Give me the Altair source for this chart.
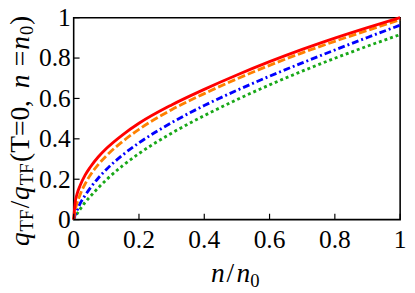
import altair as alt
import pandas as pd

# density n/n0
n_vals = [0, 0.005, 0.01, 0.02, 0.035, 0.05, 0.075, 0.1, 0.15, 0.2, 0.3, 0.4, 0.5, 0.6, 0.7, 0.8, 0.9, 1.0]
# q_TF / q_TF(T=0, n=n0) for four curves
red = [0, 0.09, 0.125, 0.17, 0.22, 0.258, 0.31, 0.352, 0.42, 0.477, 0.568, 0.645, 0.716, 0.782, 0.843, 0.899, 0.951, 1.0]
orange = [0, 0.05, 0.08, 0.125, 0.177, 0.218, 0.272, 0.316, 0.387, 0.447, 0.544, 0.624, 0.697, 0.764, 0.826, 0.883, 0.937, 0.99]
blue = [0, 0.025, 0.045, 0.08, 0.12, 0.155, 0.205, 0.248, 0.32, 0.38, 0.48, 0.565, 0.64, 0.71, 0.776, 0.84, 0.902, 0.963]
green = [0, 0.015, 0.028, 0.052, 0.085, 0.113, 0.157, 0.197, 0.267, 0.327, 0.428, 0.515, 0.594, 0.667, 0.735, 0.799, 0.859, 0.916]
tick_vals = [0, 0.2, 0.4, 0.6, 0.8, 1]

W, H = 333, 206
FONT = "Liberation Serif"

xscale = alt.Scale(domain=[0, 1], nice=False, zero=False)
yscale = alt.Scale(domain=[0, 1], nice=False, zero=False)

styles = [
    (red, "#FF0000", []),
    (orange, "#FF8000", [8, 3]),
    (blue, "#0000FF", [7, 3, 2, 3]),
    (green, "#18A818", [3, 3]),
]

layers = []
for vals, col, dash in styles[::-1]:
    df = pd.DataFrame({"n": n_vals, "q": vals})
    kw = dict(color=col, strokeWidth=2.9, interpolate="monotone", strokeCap="butt")
    if dash:
        kw["strokeDash"] = dash
    layers.append(
        alt.Chart(df).mark_line(**kw).encode(
            x=alt.X("n:Q", scale=xscale, axis=None),
            y=alt.Y("q:Q", scale=yscale, axis=None),
        )
    )

# inward ticks on bottom and left
tdf = pd.DataFrame({"t": tick_vals})
layers.append(alt.Chart(tdf).mark_rule(color="black", strokeWidth=1.2).encode(
    x=alt.X("t:Q", scale=xscale, axis=None), y=alt.value(H), y2=alt.value(H - 6)))
layers.append(alt.Chart(tdf).mark_rule(color="black", strokeWidth=1.2).encode(
    y=alt.Y("t:Q", scale=yscale, axis=None), x=alt.value(0), x2=alt.value(6)))

# tick labels
layers.append(alt.Chart(tdf).mark_text(font=FONT, fontSize=26, color="black", align="center",
                                       baseline="alphabetic").encode(
    x=alt.X("t:Q", scale=xscale, axis=None), y=alt.value(H + 29),
    text=alt.Text("t:Q", format="~g")))
layers.append(alt.Chart(tdf).mark_text(font=FONT, fontSize=26, color="black", align="right",
                                       baseline="alphabetic", dy=8.5).encode(
    y=alt.Y("t:Q", scale=yscale, axis=None), x=alt.value(-3),
    text=alt.Text("t:Q", format="~g")))

# rich-text axis titles (page coords -> plot coords: x-75, y-15)
one = pd.DataFrame({"k": [0]})

def frag(text, px, py, size=28, italic=False, angle=0):
    kw = dict(text=text, font=FONT, fontSize=size, color="black", align="left", baseline="alphabetic")
    if italic:
        kw["fontStyle"] = "italic"
    if angle:
        kw["angle"] = angle
    return alt.Chart(one).mark_text(**kw).encode(x=alt.value(px - 75), y=alt.value(py - 15))

# x title: n /n0
layers += [
    frag("n", 215, 285, italic=True),
    frag("/", 231, 285),
    frag("n", 241, 285, italic=True),
    frag("0", 255, 290, size=19),
]

# y title: q_TF/q_TF(T=0, n =n0), rotated, reading upward
s = 1.07
ypos = 248
bx, sbx = 29, 33
pieces = [
    ("q", 28, True, False, 14.0),
    ("TF", 19, False, True, 22.2),
    ("/", 28, False, False, 7.8),
    ("q", 28, True, False, 14.0),
    ("TF", 19, False, True, 22.2),
    ("(T=0,", 28, False, False, 63.2),
    ("", 28, False, False, 7.0),
    ("n", 28, True, False, 14.0),
    ("", 28, False, False, 7.0),
    ("=", 28, False, False, 15.8),
    ("n", 28, True, False, 14.0),
    ("0", 19, False, True, 9.5),
    (")", 28, False, False, 9.3),
]
for text, size, ital, sub, w in pieces:
    if text:
        layers.append(frag(text, sbx if sub else bx, round(ypos, 1), size=size, italic=ital, angle=270))
    ypos -= w * s

chart = alt.layer(*layers).properties(
    width=W, height=H,
    padding={"left": 67, "top": 7, "right": 7, "bottom": 72},
    autosize=alt.AutoSizeParams(type="none"),
).configure(
    font=FONT
).configure_view(
    stroke="black", strokeWidth=1.6
)

chart.save("out.html", embed_options={"renderer": "svg", "actions": False})
